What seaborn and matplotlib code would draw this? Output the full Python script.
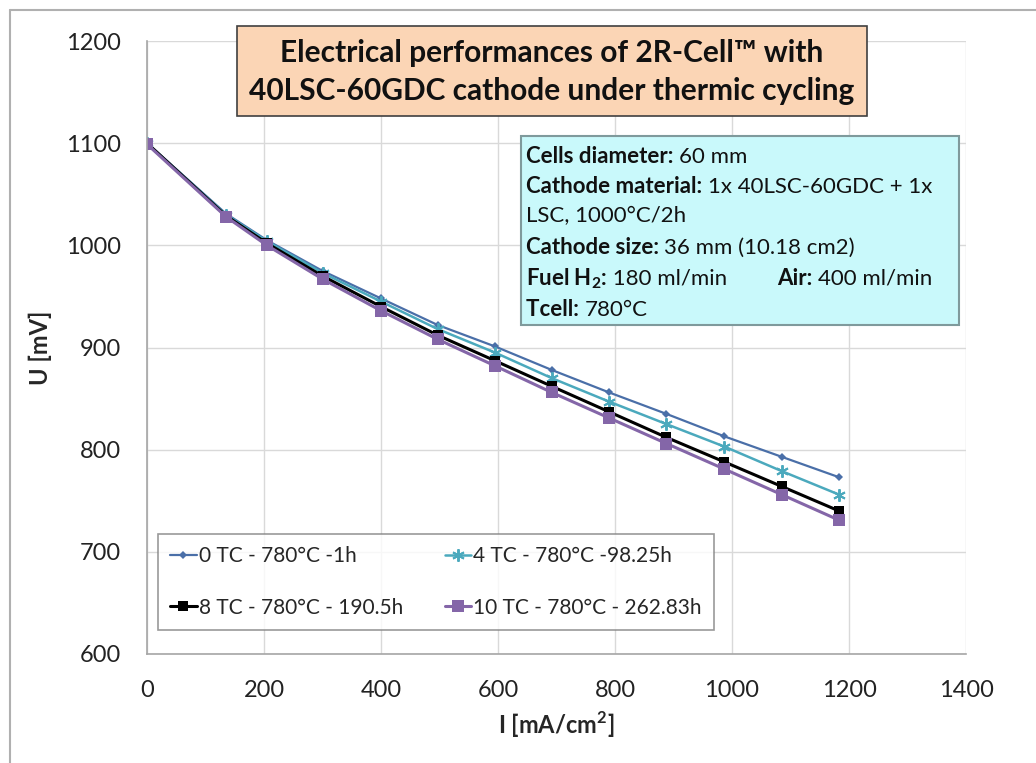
import numpy as np
import pandas as pd
import seaborn as sns
import matplotlib.pyplot as plt
from matplotlib.patches import Rectangle
from matplotlib.lines import Line2D

# data
current = [0, 135, 205, 300, 400, 497, 595, 692, 790, 888, 987, 1085, 1183]
u_0tc = [1100, 1031, 1005, 975, 948, 922, 901, 878, 856, 835, 813, 793, 773]
u_4tc = [1100, 1030, 1004, 973, 945, 918, 895, 870, 847, 825, 803, 779, 756]
u_8tc = [1100, 1029, 1002, 970, 940, 912, 887, 862, 837, 812, 788, 764, 740]
u_10tc = [1099, 1028, 1000, 967, 936, 908, 882, 856, 831, 806, 781, 756, 731]

series_names = ["0 TC - 780°C -1h", "4 TC - 780°C -98.25h",
                "8 TC - 780°C - 190.5h", "10 TC - 780°C - 262.83h"]
x_ticks = [0, 200, 400, 600, 800, 1000, 1200, 1400]
y_ticks = [600, 700, 800, 900, 1000, 1100, 1200]

df = pd.DataFrame({
    "I": current * 4,
    "U": u_0tc + u_4tc + u_8tc + u_10tc,
    "serie": np.repeat(series_names, len(current)),
})

sns.set_theme(style="white")
plt.rcParams["font.family"] = ["Lato", "DejaVu Sans"]
plt.rcParams["mathtext.fontset"] = "custom"
plt.rcParams["mathtext.rm"] = "Lato"
plt.rcParams["mathtext.bf"] = "Lato:bold"

W, H = 1036, 763
fig = plt.figure(figsize=(W / 100, H / 100), dpi=100)
ax = fig.add_axes([147 / W, 1 - 654 / H, (966 - 147) / W, (654 - 41) / H])

def fx(px):
    return px / W

def fy(py):
    return 1 - py / H

# outer chart frame (only top and left visible)
fig.add_artist(Line2D([fx(10), 1], [fy(10), fy(10)], color="#B0B0B0", lw=1.5))
fig.add_artist(Line2D([fx(10), fx(10)], [0, fy(10)], color="#B0B0B0", lw=1.5))

styles = {
    series_names[0]: dict(color="#4A6FA8", marker="D", ms=4.5, lw=1.6),
    series_names[1]: dict(color="#4BA9BD", marker=(6, 2, 0), ms=9, lw=1.8, mew=1.4),
    series_names[2]: dict(color="#000000", marker="s", ms=7, lw=2.2),
    series_names[3]: dict(color="#8466A8", marker="s", ms=8.5, lw=2.2),
}
for name in series_names:
    st = styles[name]
    sns.lineplot(data=df[df["serie"] == name], x="I", y="U", ax=ax,
                 color=st["color"], marker=st["marker"], markersize=st["ms"],
                 linewidth=st["lw"], markeredgewidth=st.get("mew", 0),
                 markeredgecolor=st["color"], label=name)

ax.set_xlim(0, 1400)
ax.set_ylim(600, 1200)
ax.set_xticks(x_ticks)
ax.set_yticks(y_ticks)
ax.grid(True, color="#D9D9D9", lw=1)
ax.set_axisbelow(True)
for s in ["top", "right"]:
    ax.spines[s].set_visible(False)
for s in ["left", "bottom"]:
    ax.spines[s].set_color("#A6A6A6")
    ax.spines[s].set_linewidth(1.2)
ax.tick_params(axis="both", direction="out", length=9, width=1.2,
               color="#A6A6A6", labelsize=17, labelcolor="#222222")
ax.tick_params(axis="x", pad=10)
ax.tick_params(axis="y", pad=10)
ax.set_xlabel("I [mA/cm$^\\mathbf{2}$]", fontsize=17, fontweight="bold", labelpad=6)
ax.set_ylabel("U [mV]", fontsize=17, fontweight="bold", labelpad=10)

# legend filled row by row like the original
handles, labels = ax.get_legend_handles_labels()
order = [0, 2, 1, 3]
leg = ax.legend([handles[i] for i in order], [labels[i] for i in order],
                ncol=2, loc="lower left", bbox_to_anchor=(0.0134, 0.039),
                fontsize=15, frameon=True, fancybox=False,
                edgecolor="#808080", handlelength=1.25, handletextpad=0.1,
                borderpad=0.6, labelspacing=1.5, columnspacing=2.0,
                borderaxespad=0)
leg.get_frame().set_linewidth(1.2)

# title box
fig.add_artist(Rectangle((fx(237), fy(116)), fx(867) - fx(237), fy(26) - fy(116),
                         facecolor="#FBD5B5", edgecolor="#404040", lw=1.2))
fig.text(fx(552), fy(72), "Electrical performances of 2R-Cell™ with\n"
         "40LSC-60GDC cathode under thermic cycling",
         ha="center", va="center", fontsize=21.5, fontweight="bold",
         color="#111111", linespacing=1.4)

# info box
fig.add_artist(Rectangle((fx(521), fy(325)), fx(959) - fx(521), fy(136) - fy(325),
                         facecolor="#C9F9FB", edgecolor="#7F9A9C", lw=1.5))

renderer = fig.canvas.get_renderer()

def mixed(x, y, parts):
    # bold label followed by plain text on one baseline
    for txt, bold in parts:
        t = fig.text(fx(x), fy(y), txt, ha="left", va="baseline",
                     fontsize=16, fontweight="bold" if bold else "normal",
                     color="#111111", zorder=5)
        x = t.get_window_extent(renderer).x1 * W / fig.bbox.width

lines = [
    (163, [("Cells diameter: ", True), ("60 mm", False)]),
    (193, [("Cathode material: ", True), ("1x 40LSC-60GDC + 1x", False)]),
    (222, [("LSC, 1000°C/2h", False)]),
    (254, [("Cathode size: ", True), ("36 mm (10.18 cm2)", False)]),
    (285, [("Fuel H$_\\mathbf{2}$:", True), (" 180 ml/min", False)]),
    (316, [("Tcell: ", True), ("780°C", False)]),
]
for y, parts in lines:
    mixed(526, y, parts)
mixed(777, 285, [("Air: ", True), ("400 ml/min", False)])

fig.savefig("out.png", dpi=100, facecolor="white")
